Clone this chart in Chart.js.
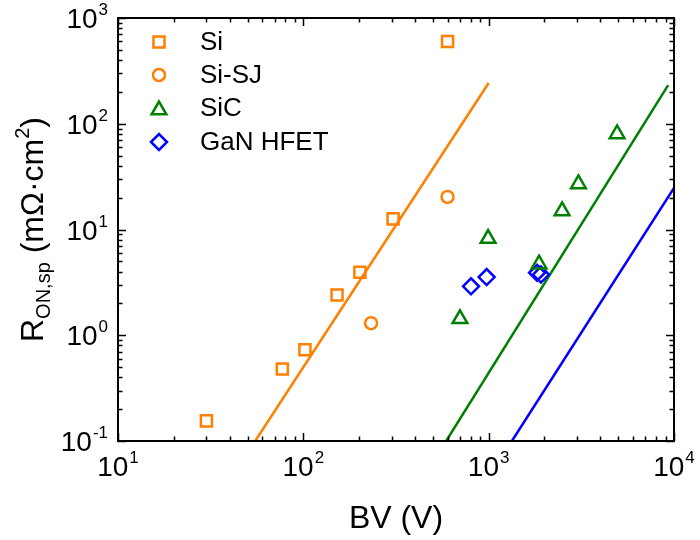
<!DOCTYPE html>
<html lang="en">
<head>
    <meta charset="UTF-8">
    <title>Ron,sp vs BV</title>
    <script src="https://cdn.jsdelivr.net/npm/chart.js"></script>
    <style>
        body {
            margin: 0;
            background: #fff;
        }
        #wrap {
            width: 700px;
            height: 540px;
        }
    </style>
</head>
<body>
    <div id="wrap"><canvas id="ronChart" width="700" height="540"></canvas></div>

    <script>
        // Data (BV in V, Ron,sp in mOhm.cm2)
        const siBV = [30, 77, 102, 152, 202, 305, 600];
        const siRon = [0.155, 0.48, 0.73, 2.4, 3.95, 12.6, 600];

        const sjBV = [232, 600];
        const sjRon = [1.3, 20.3];

        const sicBV = [700, 993, 1870, 2490, 3050, 4930];
        const sicRon = [1.43, 8.2, 4.7, 15, 27, 80];

        const ganBV = [803, 975, 1825, 1915];
        const ganRon = [2.9, 3.55, 3.9, 3.75];

        // theoretical limit lines (end points)
        const siLimitBV = [55, 1000];
        const siLimitRon = [0.1, 243];
        const sicLimitBV = [590, 9300];
        const sicLimitRon = [0.1, 232];
        const ganLimitBV = [1335, 10000];
        const ganLimitRon = [0.1, 24.7];

        // axes
        const xDecades = [1, 2, 3, 4];
        const yDecades = [-1, 0, 1, 2, 3];
        const minorSteps = [2, 3, 4, 5, 6, 7, 8, 9];
        const xTitle = 'BV (V)';

        const legendNames = ['Si', 'Si-SJ', 'SiC', 'GaN HFET'];

        const ORANGE = '#ff7f00';
        const GREEN = '#008000';
        const BLUE = '#0000ff';
        const FONT = '"Liberation Sans", Arial, sans-serif';

        function pts(xs, ys) {
            return xs.map((x, i) => ({ x: x, y: ys[i] }));
        }

        function markerSet(label, xs, ys, color, style, radius) {
            return {
                label: label,
                data: pts(xs, ys),
                showLine: false,
                pointStyle: style,
                pointRadius: radius,
                pointHoverRadius: radius,
                pointBorderWidth: 2.5,
                pointBackgroundColor: 'rgba(0,0,0,0)',
                pointBorderColor: color,
                borderColor: color
            };
        }

        function lineSet(xs, ys, color) {
            return {
                label: '',
                data: pts(xs, ys),
                showLine: true,
                borderColor: color,
                borderWidth: 2.5,
                pointRadius: 0,
                fill: false
            };
        }

        const markerDefs = [
            markerSet('Si', siBV, siRon, ORANGE, 'rect', 7.8),
            markerSet('Si-SJ', sjBV, sjRon, ORANGE, 'circle', 6),
            markerSet('SiC', sicBV, sicRon, GREEN, 'triangle', 8.5),
            markerSet('GaN HFET', ganBV, ganRon, BLUE, 'rectRot', 8)
        ];

        // draws the frame, inward ticks, tick labels, titles and legend
        const decorPlugin = {
            id: 'decor',
            afterDraw(chart) {
                const ctx = chart.ctx;
                const area = chart.chartArea;
                const xs = chart.scales.x;
                const ys = chart.scales.y;

                ctx.save();
                ctx.strokeStyle = '#000';
                ctx.lineWidth = 2;
                ctx.strokeRect(area.left, area.top, area.right - area.left, area.bottom - area.top);

                // ticks
                ctx.lineWidth = 1.5;
                function tickX(v, len) {
                    const px = Math.round(xs.getPixelForValue(v)) + 0.5;
                    ctx.beginPath();
                    ctx.moveTo(px, area.bottom);
                    ctx.lineTo(px, area.bottom - len);
                    ctx.moveTo(px, area.top);
                    ctx.lineTo(px, area.top + len);
                    ctx.stroke();
                }
                function tickY(v, len) {
                    const py = Math.round(ys.getPixelForValue(v)) + 0.5;
                    ctx.beginPath();
                    ctx.moveTo(area.left, py);
                    ctx.lineTo(area.left + len, py);
                    ctx.moveTo(area.right, py);
                    ctx.lineTo(area.right - len, py);
                    ctx.stroke();
                }
                xDecades.forEach((d, i) => {
                    tickX(Math.pow(10, d), 8);
                    if (i < xDecades.length - 1) {
                        minorSteps.forEach(m => tickX(m * Math.pow(10, d), 4.5));
                    }
                });
                yDecades.forEach((d, i) => {
                    tickY(Math.pow(10, d), 8);
                    if (i < yDecades.length - 1) {
                        minorSteps.forEach(m => tickY(m * Math.pow(10, d), 4.5));
                    }
                });

                // tick labels: 10 with superscript exponent
                ctx.fillStyle = '#000';
                ctx.textBaseline = 'alphabetic';
                const mainFont = '28px ' + FONT;
                const supFont = '17px ' + FONT;
                function powerWidth(exp) {
                    ctx.font = mainFont;
                    const w1 = ctx.measureText('10').width;
                    ctx.font = supFont;
                    const w2 = ctx.measureText(String(exp)).width;
                    return [w1, w2];
                }
                function drawPower(exp, left, baseline) {
                    const w = powerWidth(exp);
                    ctx.font = mainFont;
                    ctx.textAlign = 'left';
                    ctx.fillText('10', left, baseline);
                    ctx.font = supFont;
                    ctx.fillText(String(exp), left + w[0] + 1, baseline - 13);
                    return w[0] + w[1] + 1;
                }
                xDecades.forEach(d => {
                    const px = xs.getPixelForValue(Math.pow(10, d));
                    const w = powerWidth(d);
                    const total = w[0] + w[1] + 1;
                    drawPower(d, px - total / 2, 476);
                });
                yDecades.forEach(d => {
                    const py = ys.getPixelForValue(Math.pow(10, d));
                    const w = powerWidth(d);
                    const total = w[0] + w[1] + 1;
                    drawPower(d, area.left - 10 - total, py + 10);
                });

                // x title
                ctx.font = '32px ' + FONT;
                ctx.textAlign = 'center';
                ctx.fillText(xTitle, (area.left + area.right) / 2, 528);

                // y title: R_ON,sp (mΩ·cm²)
                const parts = [
                    { t: 'R', f: '32px ' + FONT, dy: 0 },
                    { t: 'ON,sp', f: '20px ' + FONT, dy: 7 },
                    { t: ' (m\u03A9\u00B7cm', f: '32px ' + FONT, dy: 0 },
                    { t: '2', f: '20px ' + FONT, dy: -14 },
                    { t: ')', f: '32px ' + FONT, dy: 0 }
                ];
                let total = 0;
                parts.forEach(p => {
                    ctx.font = p.f;
                    p.w = ctx.measureText(p.t).width;
                    total += p.w;
                });
                ctx.save();
                ctx.translate(43, (area.top + area.bottom) / 2);
                ctx.rotate(-Math.PI / 2);
                ctx.textAlign = 'left';
                let cx = -total / 2;
                parts.forEach(p => {
                    ctx.font = p.f;
                    ctx.fillText(p.t, cx, p.dy);
                    cx += p.w;
                });
                ctx.restore();

                // legend
                const rowsY = [42, 75, 108, 142];
                ctx.font = '26px ' + FONT;
                ctx.textAlign = 'left';
                ctx.textBaseline = 'middle';
                markerDefs.forEach((ds, i) => {
                    ctx.strokeStyle = ds.pointBorderColor;
                    ctx.fillStyle = 'rgba(0,0,0,0)';
                    ctx.lineWidth = ds.pointBorderWidth;
                    Chart.helpers.drawPoint(ctx, {
                        pointStyle: ds.pointStyle,
                        radius: ds.pointRadius,
                        rotation: 0,
                        borderWidth: ds.pointBorderWidth
                    }, 159, rowsY[i] + (ds.pointStyle === 'triangle' ? 2 : 0));
                    ctx.fillStyle = '#000';
                    ctx.fillText(legendNames[i], 200, rowsY[i] + 1);
                });

                ctx.restore();
            }
        };

        new Chart(document.getElementById('ronChart').getContext('2d'), {
            type: 'scatter',
            data: {
                datasets: markerDefs.concat([
                    lineSet(siLimitBV, siLimitRon, ORANGE),
                    lineSet(sicLimitBV, sicLimitRon, GREEN),
                    lineSet(ganLimitBV, ganLimitRon, BLUE)
                ])
            },
            options: {
                responsive: false,
                animation: false,
                layout: {
                    padding: { left: 118, top: 18, right: 26, bottom: 99 }
                },
                plugins: {
                    legend: { display: false },
                    tooltip: { enabled: false }
                },
                scales: {
                    x: {
                        type: 'logarithmic',
                        min: 10,
                        max: 10000,
                        display: false
                    },
                    y: {
                        type: 'logarithmic',
                        min: 0.1,
                        max: 1000,
                        display: false
                    }
                }
            },
            plugins: [decorPlugin]
        });
    </script>
</body>
</html>
